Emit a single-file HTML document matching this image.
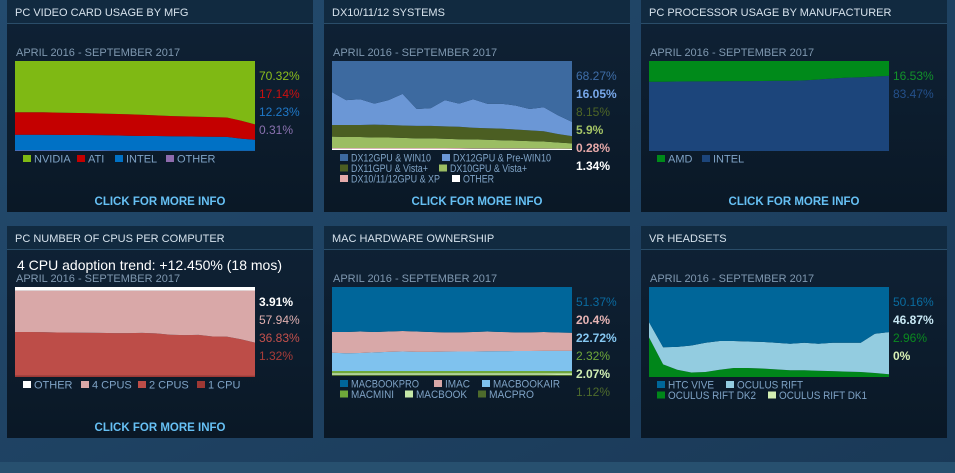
<!DOCTYPE html>
<html><head><meta charset="utf-8"><style>
html,body{margin:0;padding:0;width:955px;height:473px;overflow:hidden;background:#1d3f5e;}
svg{display:block;font-family:"Liberation Sans",sans-serif;}
</style></head><body>
<svg id="s" width="955" height="473" viewBox="0 0 955 473">
<defs>
<linearGradient id="bg" x1="0" y1="0" x2="1" y2="1"><stop offset="0" stop-color="#234b6e"/><stop offset="1" stop-color="#1a3957"/></linearGradient>
<linearGradient id="pn" x1="0" y1="0" x2="0" y2="1"><stop offset="0" stop-color="#0f2236"/><stop offset="1" stop-color="#0a1826"/></linearGradient>
</defs>
<rect x="0" y="0" width="955" height="473" fill="url(#bg)"/>
<rect x="0" y="462" width="955" height="11" fill="#27506f"/>
</svg>
<script>
// ---- Panel 1: video card (bottom-up) ----
const gpuOther = [0.5,0.5,0.5,0.5,0.5,0.5,0.5,0.4,0.4,0.4,0.4,0.4,0.4,0.4,0.3,0.3,0.3,0.3];
const gpuIntel = [17.5,17.5,17.5,17.4,17.3,17.3,17.2,17.0,16.5,16.3,16.2,16.0,15.8,15.6,15.5,15.4,13.5,12.2];
const gpuAti = [25.0,25.0,25.0,24.8,24.5,24.3,24.0,23.8,24.0,23.6,23.0,22.5,22.3,22.0,21.8,21.5,20.0,17.1];
const gpuNvidia = [57.0,57.0,57.0,57.3,57.7,57.9,58.3,58.8,59.1,59.7,60.4,61.1,61.5,62.0,62.4,62.8,66.2,70.3];
// ---- Panel 2: DX (bottom-up) ----
const dxOther = [1.5,1.5,1.5,1.5,1.5,1.5,1.5,1.5,1.5,1.4,1.4,1.4,1.4,1.4,1.4,1.4,1.4,1.3];
const dxXp = [0.8,0.8,0.8,0.8,0.8,0.8,0.8,0.8,0.8,0.8,0.6,0.6,0.5,0.5,0.4,0.4,0.3,0.3];
const dx10 = [12.8,12.3,12.3,11.8,11.8,11.3,10.8,10.8,10.3,9.9,10.0,9.5,9.1,8.6,8.2,7.7,6.8,5.9];
const dx11 = [13,13.5,13.5,14.5,14,14,14,14,14,14,13,13,13,12.5,12,11.5,9.5,8.1];
const dx12Pre = [37,28,29,23.5,28,35.5,19,20,29.5,26,32,27.5,28,27,24,27,21,16];
const dx12Win10 = [35,44,43,48,44,37,54,53,44,48,43,48,48,50,54,52,61,68.3];
// ---- Panel 3: CPU manufacturer ----
const cpuIntel = [77,77,77.2,77.3,77.4,77.5,77.6,77.7,77.8,78,78,78.5,79.5,80.5,81.5,82,82.8,83.5];
const cpuAmd = [23,23,22.8,22.7,22.6,22.5,22.4,22.3,22.2,22,22,21.5,20.5,19.5,18.5,18,17.2,16.5];
// ---- Panel 4: number of CPUs ----
const cpus1 = [1.5,1.5,1.5,1.5,1.5,1.5,1.5,1.5,1.5,1.5,1.5,1.5,1.5,1.5,1.4,1.4,1.3,1.3];
const cpus2 = [48.5,48.5,48.3,48,47.8,47.7,47.5,47.3,47.3,47.5,47,45.5,45,45.3,43.6,43.4,40.7,36.8];
const cpus4 = [46,46,46.2,46.5,46.7,46.8,47,47.2,47.2,47,47.5,49,49.5,49.2,51,51.2,54,57.9];
const cpusOther = [4,4,4,4,4,4,4,4,4,4,4,4,4,4,4,4,4,3.9];
// ---- Panel 5: Mac ----
const macPro = [1.2,1.2,1.2,1.2,1.2,1.2,1.2,1.2,1.2,1.2,1.2,1.2,1.2,1.2,1.2,1.2,1.1,1.1];
const macBook = [2,2,2,2,2,2,2,2,2,2,2,2,2,2,2,2,2.1,2.1];
const macMini = [2.4,2.4,2.4,2.4,2.4,2.4,2.4,2.4,2.4,2.4,2.4,2.4,2.4,2.4,2.4,2.4,2.3,2.3];
const macAir = [20.5,20,20.3,21,21.5,22,21.5,21.5,21.8,22,22,22.2,22.3,22.5,22.5,22.6,22.7,22.7];
const macImac = [23.4,23.9,24.1,22.9,22.9,22.9,22.9,22.4,21.6,21.4,21.9,22.2,21.6,20.9,20.9,21.3,20.7,20.4];
const macBookPro = [50.5,50.5,50,50.5,50,49.5,50,50.5,51,51,50.5,50,50.5,51,51,50.5,51,51.4];
// ---- Panel 6: VR ----
const vrDk1 = [0,0,0,0,0,0,0,0,0,0,0,0,0,0,0,0,0,0];
const vrDk2 = [44,14,8,5,5.5,8,10,10,9.5,8.5,7.5,7.5,7,6.5,6,5.5,4.5,3];
const vrRift = [17,19,25.5,30,32.5,32,30,29.5,29.5,29.5,29.5,30.5,30,31.5,32,32.5,43.5,46.9];
const vrVive = [39,67,66.5,65,62,60,60,60.5,61,62,63,62,63,62,62,62,52,50.2];

const NS='http://www.w3.org/2000/svg';
const svg=document.getElementById('s');
function mk(tag,attrs,parent){const e=document.createElementNS(NS,tag);for(const k in attrs)e.setAttribute(k,attrs[k]);(parent||svg).appendChild(e);return e;}
function txt(x,y,str,attrs){const e=mk('text',Object.assign({x:x,y:y},attrs||{}));e.textContent=str;return e;}

function stacked(g,x0,y0,w,h,series,colors,names){
  const n=series[0].length;
  const xs=i=>x0+i*w/(n-1);
  const tot=[];for(let i=0;i<n;i++){let t=0;series.forEach(s=>t+=s[i]);tot.push(t);}
  const base=new Array(n).fill(0);
  series.forEach((s,k)=>{
    const top=base.map((b,i)=>b+s[i]);
    const ys=v=>y0+h-v*h;
    let d='';
    for(let i=0;i<n;i++)d+=(i?'L':'M')+xs(i).toFixed(2)+','+ys(top[i]/tot[i]).toFixed(2);
    for(let i=n-1;i>=0;i--)d+='L'+xs(i).toFixed(2)+','+ys(base[i]/tot[i]).toFixed(2);
    d+='Z';
    const p=mk('path',{d:d,fill:colors[k]},g);
    
    
    for(let i=0;i<n;i++)base[i]=top[i];
  });
}

function panel(px,py,ph,title,cfg){
  const g=mk('g',{});
  
  
  mk('rect',{x:px,y:py,width:306,height:ph,fill:'url(#pn)'},g);
  mk('rect',{x:px,y:py,width:306,height:23,fill:'#112a40'},g);
  mk('line',{x1:px,y1:py+23.5,x2:px+306,y2:py+23.5,stroke:'#2a4d69','stroke-width':1},g);
  const t=txt(px+8,py+16,title,{fill:'#d6e2ec','font-size':'11px'});g.appendChild(t);
  
  const cy=cfg.cy;
  if(cfg.trend){const tr=txt(px+10,py+44,cfg.trend,{fill:'#ffffff','font-size':'14px'});g.appendChild(tr);
    }
  const st=txt(px+9,cy-5,'APRIL 2016 - SEPTEMBER 2017',{fill:'#7f98b0','font-size':'11px'});g.appendChild(st);
  
  const cg=mk('g',{},g);
  
  stacked(cg,px+8,cy,240,cfg.ch,cfg.series,cfg.colors,cfg.names);
  cfg.labels.forEach((l,i)=>{const e=txt(px+252,cy+19+i*18,l[0],{fill:l[1],'font-size':'12px','font-weight':l[2]?'bold':'normal'});g.appendChild(e);
    });
  cfg.legend.forEach(l=>{const ly=cy+cfg.ch+4+l[3]*10.5;
    const lg=mk('g',{},g);
    
    mk('rect',{x:px+l[0],y:ly,width:8,height:7,fill:l[2]},lg);
    const a={fill:'#7fa3c6','font-size':'11px'};
    if(l[4]){a.textLength=l[4];a.lengthAdjust='spacingAndGlyphs';}
    const e=txt(px+l[0]+11,ly+7.5,l[1],a);lg.appendChild(e);});
  if(cfg.click){const c=txt(px+153,py+ph-7,'CLICK FOR MORE INFO',{fill:'#66c0f4','font-size':'11.5px','font-weight':'bold','text-anchor':'middle'});g.appendChild(c);
    }
}

panel(7,0,212,'PC VIDEO CARD USAGE BY MFG',{id:'video-card',cy:61,ch:90,click:1,
 series:[gpuOther,gpuIntel,gpuAti,gpuNvidia],colors:['#8e6bad','#0071c5','#c40000','#7fb914'],names:['area-other','area-intel','area-ati','area-nvidia'],
 labels:[['70.32%','#8cbd1d'],['17.14%','#cc1010'],['12.23%','#1f78c8'],['0.31%','#8a72b0']],
 legend:[[16,'NVIDIA','#7fb914',0],[70,'ATI','#c40000',0],[108,'INTEL','#0071c5',0],[159,'OTHER','#8e6bad',0]]});
panel(324,0,212,'DX10/11/12 SYSTEMS',{id:'dx-systems',cy:61,ch:89,click:1,
 series:[dxOther,dxXp,dx10,dx11,dx12Pre,dx12Win10],colors:['#ffffff','#e3aaaa','#9bbd63','#4b5e22','#6b97d6','#3d6aa0'],names:['area-other','area-xp','area-dx10','area-dx11','area-dx12-pre-win10','area-dx12-win10'],
 labels:[['68.27%','#3f6ea8'],['16.05%','#78a8ea',1],['8.15%','#4e6626'],['5.9%','#a4c466',1],['0.28%','#e6a8a8',1],['1.34%','#ffffff',1]],
 legend:[[16,'DX12GPU & WIN10','#3d6aa0',0,80],[118,'DX12GPU & Pre-WIN10','#6b97d6',0,98],[16,'DX11GPU & Vista+','#4b5e22',1,77],[115,'DX10GPU & Vista+','#9bbd63',1,77],[16,'DX10/11/12GPU & XP','#e3aaaa',2,89],[128,'OTHER','#ffffff',2,31]]});
panel(641,0,212,'PC PROCESSOR USAGE BY MANUFACTURER',{id:'processor',cy:61,ch:90,click:1,
 series:[cpuIntel,cpuAmd],colors:['#1c457b','#008a1a'],names:['area-intel','area-amd'],
 labels:[['16.53%','#12922a'],['83.47%','#24508a']],
 legend:[[16,'AMD','#008a1a',0],[61,'INTEL','#1c457b',0]]});
panel(7,226,212,'PC NUMBER OF CPUS PER COMPUTER',{id:'cpu-count',cy:287,ch:90,click:1,trend:'4 CPU adoption trend: +12.450% (18 mos)',
 series:[cpus1,cpus2,cpus4,cpusOther],colors:['#9e3834','#bd4d48','#d9a8a8','#ffffff'],names:['area-1-cpu','area-2-cpus','area-4-cpus','area-other'],
 labels:[['3.91%','#ffffff',1],['57.94%','#e0b0b0'],['36.83%','#c4504c'],['1.32%','#a83c38']],
 legend:[[16,'OTHER','#ffffff',0],[74,'4 CPUS','#d9a8a8',0],[131,'2 CPUS','#bd4d48',0],[190,'1 CPU','#9e3834',0]]});
panel(324,226,212,'MAC HARDWARE OWNERSHIP',{id:'mac-hardware',cy:287,ch:89,click:0,
 series:[macPro,macBook,macMini,macAir,macImac,macBookPro],colors:['#4e6b2c','#c5e7a8','#6fa83a','#7fc2ee','#d8a8a8','#00669a'],names:['area-macpro','area-macbook','area-macmini','area-macbookair','area-imac','area-macbookpro'],
 labels:[['51.37%','#0a6aa0'],['20.4%','#e6b4b4',1],['22.72%','#86c8f2',1],['2.32%','#6fa83a'],['2.07%','#d0eeb4',1],['1.12%','#4e6b2c']],
 legend:[[16,'MACBOOKPRO','#00669a',0,68],[110,'IMAC','#d8a8a8',0,25],[158,'MACBOOKAIR','#7fc2ee',0,67],[16,'MACMINI','#6fa83a',1,43],[81,'MACBOOK','#c5e7a8',1,51],[154,'MACPRO','#4e6b2c',1,45]]});
panel(641,226,212,'VR HEADSETS',{id:'vr-headsets',cy:287,ch:90,click:0,
 series:[vrDk1,vrDk2,vrRift,vrVive],colors:['#d3eeb2','#00861a','#93cce0','#006699'],names:['area-oculus-dk1','area-oculus-dk2','area-oculus-rift','area-htc-vive'],
 labels:[['50.16%','#0a6ca0'],['46.87%','#c8e8f4',1],['2.96%','#0a8a20'],['0%','#d8f0b4',1]],
 legend:[[16,'HTC VIVE','#006699',0,46],[85,'OCULUS RIFT','#93cce0',0,66],[16,'OCULUS RIFT DK2','#00861a',1,88],[127,'OCULUS RIFT DK1','#d3eeb2',1,88]]});
</script>
</body></html>
